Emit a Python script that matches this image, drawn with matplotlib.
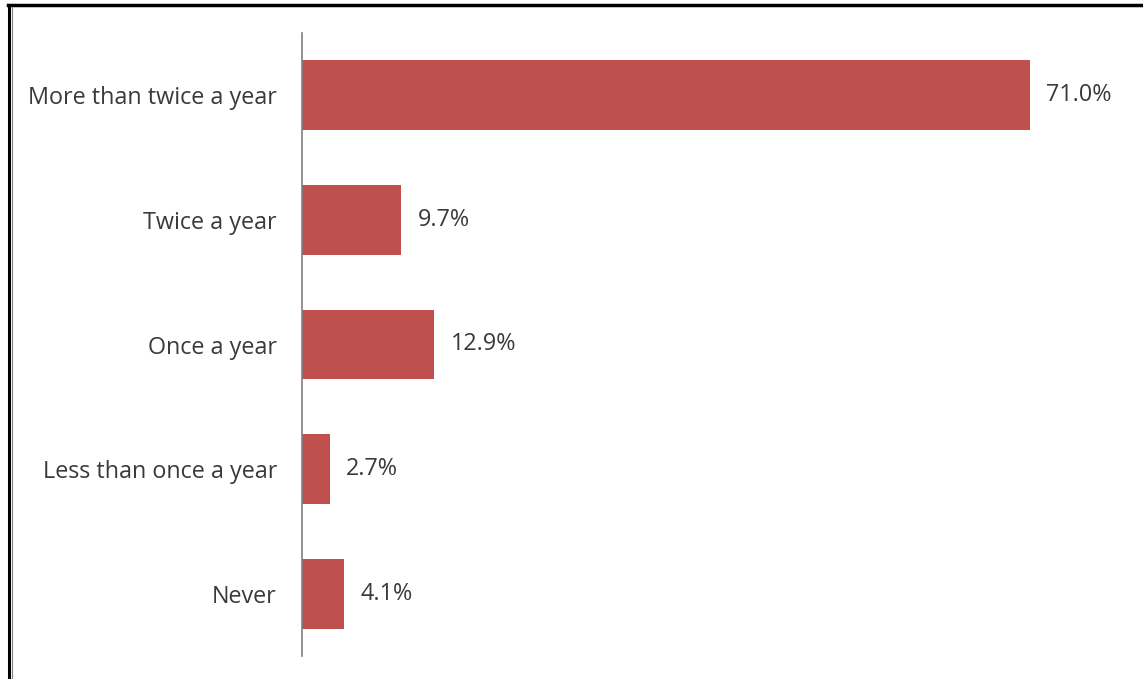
import matplotlib.pyplot as plt
from matplotlib.lines import Line2D

# data
categorias = ['More than twice a year', 'Twice a year', 'Once a year',
              'Less than once a year', 'Never']
porcentajes = [71.0, 9.7, 12.9, 2.7, 4.1]

color_barra = '#C0504D'
color_texto = '#3a3a3a'

plt.rcParams['font.family'] = ['Open Sans', 'DejaVu Sans']

fig = plt.figure(figsize=(11.43, 6.79), dpi=100)
ancho, alto = 1143, 679
ax = fig.add_axes([302 / ancho, (alto - 656) / alto, (1122 - 302) / ancho, (656 - 33) / alto])

pos = list(range(len(categorias)))
ax.barh(pos, porcentajes, height=0.56, color=color_barra)
ax.set_ylim(len(categorias) - 0.5, -0.5)
ax.set_xlim(0, 80)

for p, v in zip(pos, porcentajes):
    ax.text(v + 1.6, p, f'{v:.1f}%', va='center', ha='left', fontsize=16.8, color=color_texto)

ax.set_yticks(pos)
ax.set_yticklabels(categorias, fontsize=16.8, color=color_texto)
ax.tick_params(axis='y', length=0, pad=18)
ax.set_xticks([])
for lado in ['top', 'right', 'bottom']:
    ax.spines[lado].set_visible(False)
ax.spines['left'].set_color('#808080')
ax.spines['left'].set_linewidth(1.2)

# recuadro exterior
fig.add_artist(Line2D([8 / ancho, 1], [1 - 5 / alto, 1 - 5 / alto], color='black', lw=2.5, transform=fig.transFigure))
fig.add_artist(Line2D([9 / ancho, 9 / ancho], [0, 1 - 5 / alto], color='black', lw=2.2, transform=fig.transFigure))
fig.add_artist(Line2D([11.5 / ancho, 11.5 / ancho], [0, 1 - 7 / alto], color='#808080', lw=0.8, transform=fig.transFigure))

plt.savefig('out.png', dpi=100)
plt.close()
